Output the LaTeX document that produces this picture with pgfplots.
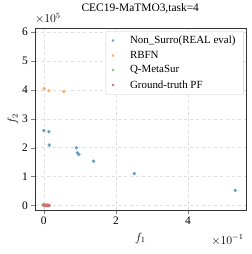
\documentclass[border=0pt]{standalone}
\usepackage{pgfplots}
\pgfplotsset{compat=1.18}
\usepackage{fontspec}
\setmainfont{Liberation Serif}
\definecolor{tblue}{HTML}{1F77B4}
\definecolor{torange}{HTML}{FF7F0E}
\definecolor{tgreen}{HTML}{2CA02C}
\definecolor{tred}{HTML}{D62728}
\begin{document}
\begin{tikzpicture}
\begin{axis}[
  scale only axis,
  width=212pt, height=183pt,
  xmin=-0.25, xmax=5.6, ymin=-0.17, ymax=6.14,
  xtick={0,2,4}, ytick={0,1,2,3,4,5,6},
  /pgf/number format/assume math mode=true,
  tick label style={font=\fontsize{11.5}{13}\selectfont},
  tick align=outside, tick pos=left,
  major tick length=3.5pt,
  grid=major,
  grid style={dashed, gray!25},
  axis line style={black!80},
  title={CEC19-MaTMO3,task=4},
  title style={font=\fontsize{11.5}{13}\selectfont, at={(axis description cs:0.5,1)}, anchor=base, yshift=11pt},
  xlabel={$f_1$}, ylabel={$f_2$},
  xlabel style={font=\fontsize{11.5}{13}\selectfont, at={(axis description cs:0.5,-0.153)}, anchor=center},
  ylabel style={font=\fontsize{11.5}{13}\selectfont, at={(axis description cs:-0.104,0.5)}, anchor=center},
  legend style={at={(0.99,0.985)}, anchor=north east, draw=gray!40, rounded corners=2pt,
    font=\fontsize{11}{13}\selectfont, row sep=2pt, inner xsep=6pt, inner ysep=3pt,
    /tikz/every odd column/.append style={column sep=14pt}},
  legend cell align=left,
  legend image post style={mark size=1.1pt},
  clip=false,
]
\addplot[only marks, mark=*, mark size=1.5pt, tblue!70] coordinates {
(0.00,2.59) (0.14,2.55) (0.15,2.09) (0.90,1.99) (0.93,1.82) (0.97,1.76) (1.38,1.53) (2.51,1.10) (5.31,0.52)
};
\addlegendentry{Non\_Surro(REAL eval)}
\addplot[only marks, mark=*, mark size=1.5pt, torange!65] coordinates {
(0.01,4.05) (0.14,3.97) (0.55,3.94)
};
\addlegendentry{RBFN}
\addplot[only marks, mark=*, mark size=1.5pt, tgreen!65] coordinates {
(-0.02,0.02) (0.0,0.01)
};
\addlegendentry{Q-MetaSur}
\addplot[only marks, mark=*, mark size=1.5pt, tred!70] coordinates {
(0.00,0.00) (0.03,0.00) (0.06,0.00) (0.09,0.00) (0.12,0.00) (0.15,0.00) (0.02,0.01) (0.08,0.01)
};
\addlegendentry{Ground-truth PF}
\node[anchor=south west, font=\fontsize{11.5}{13}\selectfont, inner sep=0pt] at ([yshift=4pt]rel axis cs:0,1) {$\times10^{5}$};
\node[anchor=east, font=\fontsize{11.5}{13}\selectfont, inner sep=0pt] at ([xshift=-2pt,yshift=-30pt]rel axis cs:1,0) {$\times10^{-1}$};
\path ([xshift=-35pt,yshift=-44pt]rel axis cs:0,0) ([xshift=6pt,yshift=27pt]rel axis cs:1,1);
\end{axis}
\end{tikzpicture}
\end{document}
